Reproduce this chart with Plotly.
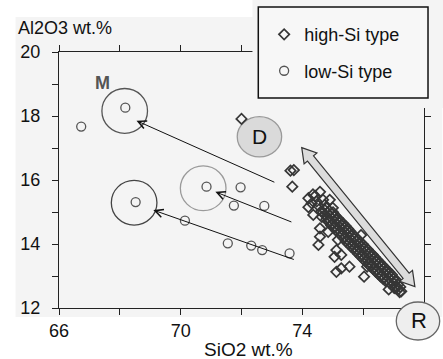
import plotly.graph_objects as go

# ---------------- data ----------------
low_si_x = [66.73, 68.18, 68.52, 70.14, 70.85, 71.97, 71.75, 72.75, 71.55, 72.32, 72.68, 73.58]
low_si_y = [17.67, 18.26, 15.31, 14.73, 15.79, 15.77, 15.20, 15.19, 14.02, 13.95, 13.81, 13.71]

high_si_x = [
    72.00, 73.61, 73.72, 73.67, 74.20, 74.58, 74.42, 74.31, 74.20, 74.36, 74.64, 74.58,
    74.58, 74.53, 75.12, 75.06, 75.28, 75.12, 75.28, 75.55, 75.93, 76.03, 77.05, 76.13,
    76.84, 74.74, 74.90, 75.00, 74.68, 74.85, 75.17,
    74.74, 74.80, 74.68,
    74.90, 74.97, 74.83, 75.01, 74.79,
    75.06, 75.12, 75.00, 75.18, 74.95,
    75.23, 75.29, 75.16, 75.34, 75.11,
    75.39, 75.45, 75.33, 75.50, 75.27,
    75.55, 75.61, 75.49, 75.66, 75.43,
    75.71, 75.77, 75.65, 75.83, 75.60,
    75.87, 75.93, 75.81, 75.99, 75.76,
    76.03, 76.09, 75.97, 76.15, 75.92,
    76.19, 76.25, 76.13, 76.31, 76.08,
    76.35, 76.41, 76.29, 76.46, 76.24,
    76.52, 76.58, 76.46, 76.62, 76.41,
    76.68, 76.74, 76.62, 76.78, 76.57,
    76.84, 76.90, 76.78, 76.94, 76.74,
    77.00, 77.06, 76.94, 77.09,
    77.16, 77.10, 77.22,
    74.82, 74.89, 74.75,
    74.98, 75.05, 74.91, 75.08, 74.87,
    75.15, 75.22, 75.08, 75.25, 75.04,
    75.31, 75.38, 75.24, 75.42, 75.20,
    75.47, 75.54, 75.40, 75.58, 75.36,
    75.63, 75.70, 75.56, 75.74, 75.52,
    75.79, 75.86, 75.72, 75.90, 75.68,
    75.95, 76.02, 75.88, 76.06, 75.84,
    76.11, 76.18, 76.04, 76.22, 76.00,
    76.27, 76.34, 76.20, 76.38, 76.16,
    76.44, 76.51, 76.37, 76.54, 76.33,
    76.60, 76.67, 76.53, 76.70, 76.49,
    76.76, 76.83, 76.69, 76.86, 76.66,
    76.92, 76.99, 76.85,
    77.08, 77.14, 77.02,
    77.25, 77.20, 74.47, 74.62, 74.35, 74.52,
]
high_si_y = [
    17.91, 16.29, 16.31, 15.79, 15.43, 15.63, 15.50, 15.27, 15.15, 14.91, 14.85, 14.49,
    14.23, 13.97, 13.81, 13.60, 13.66, 13.13, 13.24, 13.29, 14.28, 12.98, 12.62, 13.29,
    12.58, 15.22, 15.38, 15.13, 15.38, 14.38, 14.13,
    15.06, 15.12, 14.99,
    14.88, 14.94, 14.82, 14.99, 14.77,
    14.69, 14.75, 14.64, 14.80, 14.58,
    14.53, 14.58, 14.47, 14.64, 14.42,
    14.38, 14.43, 14.32, 14.48, 14.27,
    14.19, 14.25, 14.13, 14.30, 14.08,
    14.03, 14.09, 13.98, 14.14, 13.92,
    13.88, 13.93, 13.82, 13.99, 13.77,
    13.72, 13.77, 13.66, 13.83, 13.61,
    13.56, 13.62, 13.51, 13.67, 13.45,
    13.41, 13.46, 13.35, 13.51, 13.30,
    13.25, 13.30, 13.19, 13.35, 13.14,
    13.09, 13.14, 13.03, 13.19, 12.99,
    12.94, 12.99, 12.88, 13.04, 12.84,
    12.78, 12.83, 12.72, 12.87,
    12.59, 12.64, 12.66,
    14.97, 15.03, 14.91,
    14.79, 14.85, 14.72, 14.89, 14.68,
    14.61, 14.67, 14.55, 14.71, 14.50,
    14.46, 14.52, 14.39, 14.56, 14.35,
    14.29, 14.35, 14.22, 14.39, 14.18,
    14.11, 14.17, 14.05, 14.21, 14.00,
    13.96, 14.02, 13.89, 14.06, 13.85,
    13.80, 13.86, 13.74, 13.90, 13.69,
    13.64, 13.70, 13.58, 13.74, 13.53,
    13.49, 13.55, 13.42, 13.59, 13.38,
    13.33, 13.39, 13.27, 13.43, 13.22,
    13.17, 13.23, 13.11, 13.27, 13.07,
    13.02, 13.08, 12.95, 13.12, 12.91,
    12.86, 12.92, 12.80,
    12.69, 12.74, 12.63,
    12.52, 12.50, 15.33, 15.02, 15.55, 15.20,
]

x_tickvals = [66, 68, 70, 72, 74, 76, 78]
x_ticktext = ["66", "", "70", "", "74", "", ""]
y_tickvals = [12, 13, 14, 15, 16, 17, 18, 19, 20]
y_ticktext = ["12", "", "14", "", "16", "", "18", "", "20"]

FONT = "Liberation Sans, Arial, sans-serif"
BG = "#f4f4f4"

fig = go.Figure()
fig.add_trace(go.Scatter(
    x=high_si_x, y=high_si_y, mode="markers", name="high-Si type", legendgroup="a",
    marker=dict(symbol="diamond-open", size=8, color="#363636", line=dict(width=1.7)),
))
fig.add_trace(go.Scatter(
    x=low_si_x, y=low_si_y, mode="markers", name="low-Si type", legendgroup="b",
    marker=dict(symbol="circle-open", size=9, color="#555555", line=dict(width=1.3)),
))

# geometry helpers (px per data unit)
PX_X, PX_Y = 31.0, 32.0

def ell(cx, cy, rx, ry, color, fill=None, layer="above", width=1.3):
    return dict(type="circle", xref="x", yref="y", x0=cx - rx, x1=cx + rx, y0=cy - ry, y1=cy + ry,
                line=dict(color=color, width=width), fillcolor=fill or "rgba(0,0,0,0)", layer=layer)

shapes = [
    dict(type="rect", xref="paper", yref="paper", x0=-0.119, x1=1.05, y0=-0.035, y1=1.137,
         fillcolor=BG, line=dict(width=0), layer="below"),
    ell(72.59, 17.35, 0.73, 0.63, "#9a9a9a", "#dadada", layer="below"),
    ell(68.16, 18.16, 0.75, 0.70, "#555555"),
    ell(70.74, 15.74, 0.75, 0.70, "#9a9a9a"),
    ell(68.47, 15.29, 0.75, 0.70, "#444444"),
]

# double-headed gray arrow
tip_a = (73.98, 17.01)
tip_b = (77.70, 12.67)
ax_, ay_ = tip_a[0] * PX_X, -tip_a[1] * PX_Y
bx_, by_ = tip_b[0] * PX_X, -tip_b[1] * PX_Y
L = ((bx_ - ax_) ** 2 + (by_ - ay_) ** 2) ** 0.5
ux, uy = (bx_ - ax_) / L, (by_ - ay_) / L
nx, ny = uy, -ux
hl, hw, sw = 14, 8.5, 4
pts = [
    (ax_, ay_),
    (ax_ + hl * ux + hw * nx, ay_ + hl * uy + hw * ny),
    (ax_ + hl * ux + sw * nx, ay_ + hl * uy + sw * ny),
    (bx_ - hl * ux + sw * nx, by_ - hl * uy + sw * ny),
    (bx_ - hl * ux + hw * nx, by_ - hl * uy + hw * ny),
    (bx_, by_),
    (bx_ - hl * ux - hw * nx, by_ - hl * uy - hw * ny),
    (bx_ - hl * ux - sw * nx, by_ - hl * uy - sw * ny),
    (ax_ + hl * ux - sw * nx, ay_ + hl * uy - sw * ny),
    (ax_ + hl * ux - hw * nx, ay_ + hl * uy - hw * ny),
]
path = "M " + " L ".join(f"{px / PX_X:.4f},{-py / PX_Y:.4f}" for px, py in pts) + " Z"
shapes.append(dict(type="path", xref="x", yref="y", path=path, fillcolor="#dcdcdc",
                   line=dict(color="#333333", width=1.2), layer="above"))

shapes += [
    dict(type="rect", xref="paper", yref="paper", x0=0.530, x1=1.06, y0=0.781, y1=1.21,
         fillcolor=BG, line=dict(width=0), layer="above"),
    dict(type="rect", xref="paper", yref="paper", x0=0.546, x1=1.011, y0=0.820, y1=1.176,
         fillcolor="#f7f7f7", line=dict(color="#111111", width=1.5), layer="above"),
    dict(type="circle", xref="paper", yref="paper", x0=0.924, x1=1.043, y0=-0.125, y1=0.0234,
         fillcolor="#eeeeee", line=dict(color="#666666", width=1.3), layer="above"),
]

annotations = [
    dict(text="Al2O3 wt.%", xref="paper", yref="paper", x=-0.119, y=1.094, xanchor="left",
         yanchor="middle", showarrow=False, font=dict(size=18, color="#111")),
    dict(text="SiO2 wt.%", xref="paper", yref="paper", x=(251 - 59) / 370, y=(308 - 349) / 256,
         xanchor="center", yanchor="middle", showarrow=False, font=dict(size=19, color="#111")),
    dict(text="<b>M</b>", xref="x", yref="y", x=67.42, y=19.03, showarrow=False,
         xanchor="center", yanchor="middle", font=dict(size=18, color="#555555")),
    dict(text="D", xref="x", yref="y", x=72.59, y=17.35, showarrow=False,
         xanchor="center", yanchor="middle", font=dict(size=21, color="#111")),
    dict(text="R", xref="paper", yref="paper", x=(424 - 59) / 370, y=(308 - 320) / 256,
         xanchor="center", yanchor="middle", showarrow=False, font=dict(size=22, color="#111")),
]
for (hx, hy, tx, ty) in [(68.548, 17.853, 73.13, 15.91),
                         (71.14, 15.63, 73.69, 14.67),
                         (69.10, 15.06, 73.77, 13.50)]:
    annotations.append(dict(x=hx, y=hy, ax=tx, ay=ty, xref="x", yref="y", axref="x", ayref="y",
                            text="", showarrow=True, arrowhead=5, arrowsize=1.6, arrowwidth=1,
                            arrowcolor="#111111", standoff=0))

axis_common = dict(showline=True, mirror="ticks", linecolor="#222222", linewidth=1,
                   ticks="outside", ticklen=6, tickcolor="#222222", tickwidth=1,
                   showgrid=False, zeroline=False, tickfont=dict(size=18, color="#111"))

fig.update_layout(
    width=443, height=359, autosize=False,
    margin=dict(l=59, r=14, t=52, b=51),
    paper_bgcolor="white", plot_bgcolor=BG,
    font=dict(family=FONT, color="#111"),
    xaxis=dict(range=[66, 78], tickvals=x_tickvals, ticktext=x_ticktext, **axis_common),
    yaxis=dict(range=[12, 20], tickvals=y_tickvals, ticktext=y_ticktext, ticklabelstandoff=8,
               **axis_common),
    showlegend=True,
    legend=dict(x=0.562, y=1.14, xanchor="left", yanchor="top", bgcolor="rgba(0,0,0,0)",
                borderwidth=0, font=dict(size=18, color="#111"), traceorder="grouped",
                tracegroupgap=10),
    shapes=shapes, annotations=annotations,
)

fig.write_html("out.html", config={"displayModeBar": False},
               post_script="document.body.style.margin='0';")
